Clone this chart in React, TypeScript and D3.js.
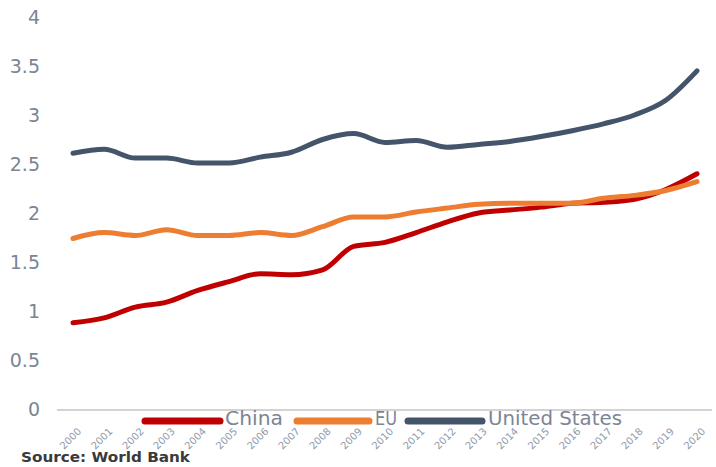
import React from "react";
import * as d3 from "d3";

const years = ["2000","2001","2002","2003","2004","2005","2006","2007","2008","2009","2010","2011","2012","2013","2014","2015","2016","2017","2018","2019","2020"];
const china = [0.88,0.93,1.04,1.09,1.21,1.30,1.38,1.37,1.42,1.66,1.70,1.80,1.91,2.00,2.03,2.06,2.10,2.11,2.14,2.24,2.40];
const eu = [1.74,1.80,1.77,1.83,1.77,1.77,1.80,1.77,1.86,1.96,1.96,2.01,2.05,2.09,2.10,2.10,2.10,2.15,2.18,2.23,2.32];
const us = [2.61,2.65,2.56,2.56,2.51,2.51,2.57,2.62,2.75,2.81,2.72,2.74,2.67,2.70,2.73,2.78,2.84,2.91,3.00,3.15,3.45];
const yTicks = [0,0.5,1,1.5,2,2.5,3,3.5,4];

const series = [
  { name: "China", values: china, color: "#c00000" },
  { name: "EU", values: eu, color: "#ed7d31" },
  { name: "United States", values: us, color: "#44546a" },
];

export default function App() {
  const W = 716, H = 467;
  const x = d3.scalePoint<string>().domain(years).range([73, 697]);
  const y = d3.scaleLinear().domain([0, 4]).range([409, 17]);
  const line = d3.line<number>().x((_, i) => x(years[i])!).y(d => y(d)).curve(d3.curveMonotoneX);
  const font = "'DejaVu Sans', sans-serif";
  const legend = [
    { sx: 145, sw: 75, tx: 225, tl: 58 },
    { sx: 297, sw: 72, tx: 375, tl: 22 },
    { sx: 408, sw: 74, tx: 488, tl: 134 },
  ];
  return (
    <svg width={W} height={H} style={{ position: "absolute", left: 0, top: 0 }}>
      <rect width={W} height={H} fill="#fff" />
      <line x1={57} x2={712} y1={y(0) + 1} y2={y(0) + 1} stroke="#c4c4c4" strokeWidth={1.5} />
      {yTicks.map(t => (
        <text key={t} x={40} y={y(t)} dy="0.36em" textAnchor="end" fontSize={19} fill="#7b8594" fontFamily={font}>{String(t)}</text>
      ))}
      {years.map(yr => (
        <text key={yr} x={x(yr)! + 9} y={432} transform={`rotate(-45 ${x(yr)! + 9} 432)`} textAnchor="end" fontSize={10} fill="#8e9aab" fontFamily={font}>{yr}</text>
      ))}
      {series.map(s => (
        <path key={s.name} d={line(s.values)!} fill="none" stroke={s.color} strokeWidth={5} strokeLinecap="round" strokeLinejoin="round" />
      ))}
      {series.map((s, i) => (
        <g key={s.name}>
          <line x1={legend[i].sx} x2={legend[i].sx + legend[i].sw} y1={421} y2={421} stroke={s.color} strokeWidth={7} strokeLinecap="round" />
          <text x={legend[i].tx} y={425} fontSize={20} fill="#7b8594" fontFamily={font} textLength={legend[i].tl} lengthAdjust="spacingAndGlyphs">{s.name}</text>
        </g>
      ))}
      <text x={21} y={462} fontSize={14} fontWeight="bold" fill="#3a3a3a" fontFamily={font} textLength={169} lengthAdjust="spacingAndGlyphs">Source: World Bank</text>
    </svg>
  );
}
